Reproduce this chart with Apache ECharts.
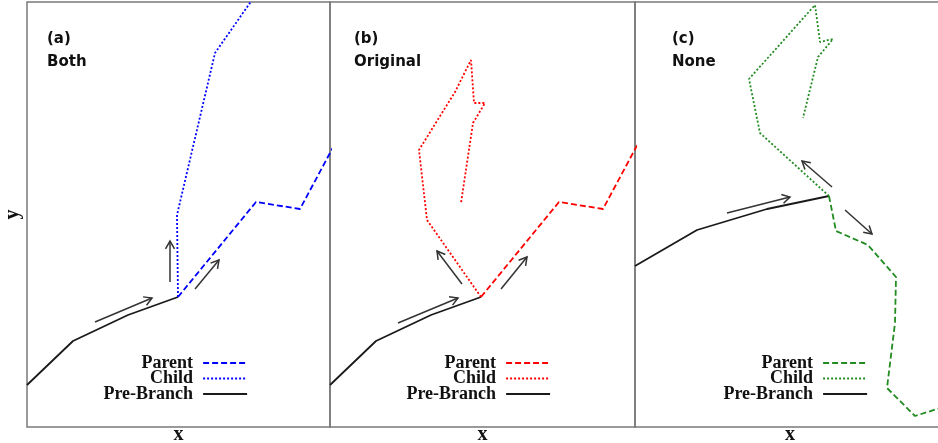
<!DOCTYPE html>
<html>
<head>
<meta charset="utf-8">
<script src="https://cdn.jsdelivr.net/npm/echarts@6/dist/echarts.min.js"></script>
<style>
  html, body { margin: 0; padding: 0; background: #fff; }
  #main { width: 938px; height: 443px; }
</style>
</head>
<body>
<div id="main"></div>
<script>
// panel texts
var panelLabels = ['(a)', '(b)', '(c)'];
var panelNames = ['Both', 'Original', 'None'];
var legendNames = ['Parent', 'Child', 'Pre-Branch'];

// paths, in panel units
var preBranchAB = [[0, 42], [46, 86], [101, 112], [151, 130]];
var parentAB = [[151, 130], [229, 225], [273, 218], [303, 274], [318, 302]];
var childA = [[151, 130], [150, 212], [188, 374], [225, 427], [240, 449]];
var childB = [[151, 130], [97, 207], [89, 277], [125, 335], [141, 367], [144, 324], [155, 324], [143, 304], [131, 224]];
var preBranchC = [[0, 161], [62, 197], [132, 218], [194, 231]];
var parentC = [[194, 231], [201, 196], [233, 182], [261, 150], [260, 104], [252, 39], [280, 11], [302, 18], [315, 22]];
var childC = [[194, 231], [125, 294], [114, 348], [180, 422], [185, 385], [198, 388], [183, 370], [168, 309]];

// arrows: x0, y0, x1, y1
var arrowsA = [[68, 105, 125, 129], [143, 145, 143, 186], [168, 138, 192, 167]];
var arrowsB = [[68, 104, 128, 129], [132, 143, 107, 176], [171, 138, 197, 170]];
var arrowsC = [[92, 214, 155, 230], [197, 240, 167, 266], [210, 217, 237, 193]];

var colors = ['#0000ff', '#ff0000', '#228b22'];
var grids = [
  {left: 27, top: 2, width: 303, height: 425},
  {left: 330, top: 2, width: 305, height: 425},
  {left: 635, top: 2, width: 310, height: 425}
];
var legendRight = [690, 387, 70];
var labelLeft = [47, 354, 672];

var parents = [parentAB, parentAB, parentC];
var childs = [childA, childB, childC];
var preBranches = [preBranchAB, preBranchAB, preBranchC];
var arrows = [arrowsA, arrowsB, arrowsC];

var dashType = [6, 3];
var dotType = [2, 2];
var lw = 1.8;

function renderArrow(params, api) {
  var p0 = api.coord([api.value(0), api.value(1)]);
  var p1 = api.coord([api.value(2), api.value(3)]);
  var ang = Math.atan2(p1[1] - p0[1], p1[0] - p0[0]);
  var len = 9, spread = Math.PI / 6;
  var h1 = [p1[0] - len * Math.cos(ang - spread), p1[1] - len * Math.sin(ang - spread)];
  var h2 = [p1[0] - len * Math.cos(ang + spread), p1[1] - len * Math.sin(ang + spread)];
  return {
    type: 'group',
    children: [
      {type: 'line', shape: {x1: p0[0], y1: p0[1], x2: p1[0], y2: p1[1]},
        style: {stroke: '#333', lineWidth: 1.5}},
      {type: 'polyline', shape: {points: [h1, p1, h2]},
        style: {stroke: '#333', lineWidth: 1.5, fill: null}}
    ]
  };
}

var myChart = echarts.init(document.getElementById('main'));

var xAxes = [], yAxes = [], series = [], legends = [], titles = [];
grids.forEach(function (g, i) {
  xAxes.push({
    type: 'value', gridIndex: i, min: 0, max: g.width,
    axisLine: {show: false}, axisTick: {show: false}, axisLabel: {show: false}, splitLine: {show: false},
    name: 'x', nameLocation: 'middle', nameGap: -2,
    nameTextStyle: {fontFamily: 'Liberation Serif', fontWeight: 'bold', fontSize: 20, color: '#111'}
  });
  yAxes.push({
    type: 'value', gridIndex: i, min: 0, max: g.height,
    axisLine: {show: false}, axisTick: {show: false}, axisLabel: {show: false}, splitLine: {show: false},
    name: i === 0 ? 'y' : '', nameLocation: 'middle', nameGap: 4,
    nameTextStyle: {fontFamily: 'Liberation Serif', fontWeight: 'bold', fontSize: 20, color: '#111'}
  });
  var c = colors[i];
  series.push({
    name: 'Pre-Branch', type: 'line', xAxisIndex: i, yAxisIndex: i, symbol: 'none',
    lineStyle: {color: '#1a1a1a', width: lw}, data: preBranches[i]
  });
  series.push({
    name: 'Parent', type: 'line', xAxisIndex: i, yAxisIndex: i, symbol: 'none',
    lineStyle: {color: c, width: lw, type: dashType}, data: parents[i]
  });
  series.push({
    name: 'Child', type: 'line', xAxisIndex: i, yAxisIndex: i, symbol: 'none',
    lineStyle: {color: c, width: lw, type: dotType}, data: childs[i]
  });
  series.push({
    type: 'custom', xAxisIndex: i, yAxisIndex: i, renderItem: renderArrow,
    encode: {x: [0, 2], y: [1, 3]}, data: arrows[i], silent: true
  });
  legends.push({
    orient: 'vertical', align: 'right', right: legendRight[i], top: 354,
    padding: 0, itemGap: -2.5, itemWidth: 44, itemHeight: 14, selectedMode: false,
    textStyle: {fontFamily: 'Liberation Serif', fontWeight: 'bold', fontSize: 18, color: '#111',
      padding: [0, 5, 0, 0]},
    data: [
      {name: 'Parent', itemStyle: {opacity: 0}, lineStyle: {color: c, width: lw, type: dashType}},
      {name: 'Child', itemStyle: {opacity: 0}, lineStyle: {color: c, width: lw, type: dotType}},
      {name: 'Pre-Branch', itemStyle: {opacity: 0}, lineStyle: {color: '#1a1a1a', width: lw, type: 'solid'}}
    ]
  });
  titles.push({
    text: panelLabels[i], subtext: panelNames[i], left: labelLeft[i], top: 30,
    padding: 0, itemGap: 5,
    textStyle: {fontFamily: 'DejaVu Sans', fontWeight: 'bold', fontSize: 15, color: '#111', lineHeight: 18},
    subtextStyle: {fontFamily: 'DejaVu Sans', fontWeight: 'bold', fontSize: 15, color: '#111', lineHeight: 18}
  });
});

myChart.setOption({
  animation: false,
  title: titles,
  legend: legends,
  grid: grids.map(function (g) {
    return Object.assign({show: true, borderColor: '#7a7a7a', borderWidth: 1.5, backgroundColor: 'transparent',
      outerBoundsMode: 'none', containLabel: false}, g);
  }),
  xAxis: xAxes,
  yAxis: yAxes,
  series: series
});
</script>
</body>
</html>
